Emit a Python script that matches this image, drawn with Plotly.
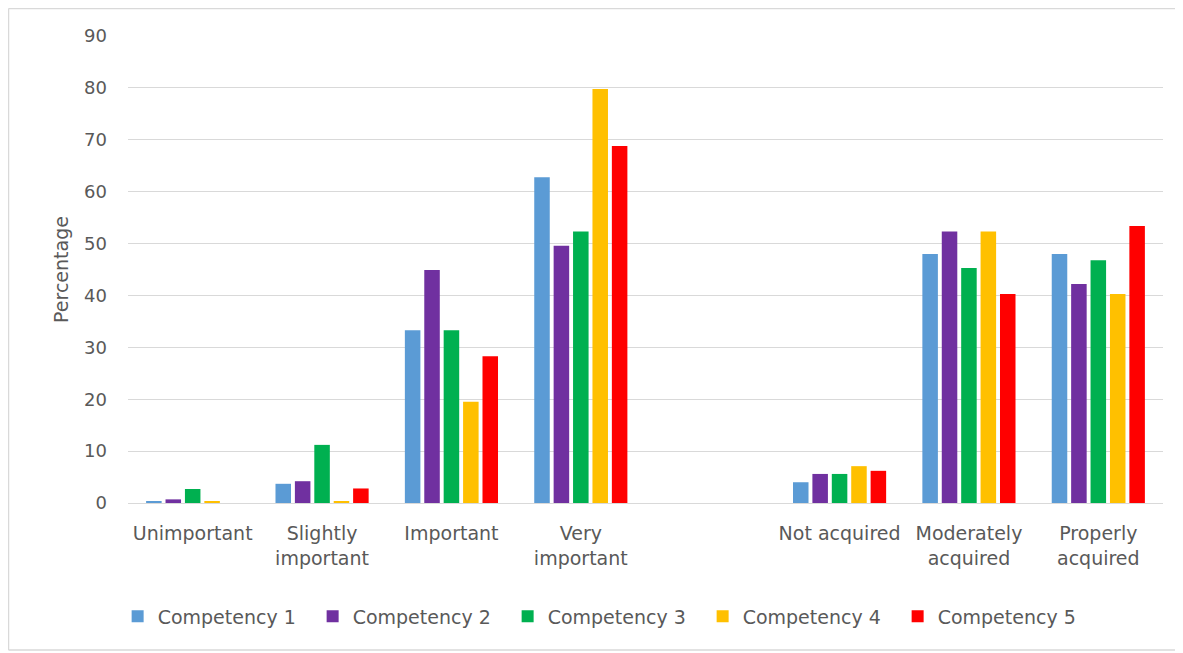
import plotly.graph_objects as go

categories = ["Unimportant", "Slightly<br>important", "Important", "Very<br>important", " ",
              "Not acquired", "Moderately<br>acquired", "Properly<br>acquired"]
series_names = ["Competency 1", "Competency 2", "Competency 3", "Competency 4", "Competency 5"]
comp1 = [0.3, 3.7, 33.3, 62.8, None, 4.0, 48.0, 48.0]
comp2 = [0.7, 4.2, 44.9, 49.6, None, 5.6, 52.3, 42.2]
comp3 = [2.7, 11.2, 33.3, 52.3, None, 5.6, 45.3, 46.8]
comp4 = [0.2, 0.3, 19.5, 79.8, None, 7.1, 52.3, 40.3]
comp5 = [0.0, 2.8, 28.3, 68.8, None, 6.2, 40.3, 53.4]
colors = ["#5B9BD5", "#7030A0", "#00B050", "#FFC000", "#FF0000"]
ytick_vals = [0, 10, 20, 30, 40, 50, 60, 70, 80, 90]

FONT = "DejaVu Sans"
GRAY = "#595959"
FS = 19

fig = go.Figure()
for name, vals, col in zip(series_names, [comp1, comp2, comp3, comp4, comp5], colors):
    fig.add_trace(go.Bar(x=categories, y=vals, name=name, marker=dict(color=col, line=dict(width=0))))

W, H = 1175, 645
L, T, R, B = 120, 28, 20, 150
pw, ph = W - L - R, H - T - B

xl = (0.5 - L) / pw
yt = (T + ph - 0.5) / ph
yb = -(H - 3 - (T + ph)) / ph
border = dict(color="#D9D9D9", width=1.5)

fig.update_layout(
    width=W, height=H,
    margin=dict(l=L, r=R, t=T, b=B),
    paper_bgcolor="white", plot_bgcolor="white",
    barmode="group", bargap=0.25, bargroupgap=0.2,
    font=dict(family=FONT, size=FS, color=GRAY),
    legend=dict(orientation="h", x=0.461, xanchor="center", y=-0.243, yanchor="middle",
                font=dict(family=FONT, size=FS, color=GRAY), itemwidth=30,
                entrywidth=150, entrywidthmode="pixels",
                traceorder="normal"),
    xaxis=dict(type="category", categoryorder="array", categoryarray=categories,
               showgrid=False, showline=True, linecolor="#D9D9D9", linewidth=1,
               ticks="", ticklabelstandoff=13, tickfont=dict(family=FONT, size=FS, color=GRAY)),
    yaxis=dict(range=[0, 90], tickvals=ytick_vals, showgrid=True, gridcolor="#D9D9D9",
               gridwidth=1, zeroline=False, showline=False, ticks="", ticklabelstandoff=20,
               tickfont=dict(family=FONT, size=18, color=GRAY),
               title=dict(text="Percentage", font=dict(family=FONT, size=19, color=GRAY), standoff=10)),
    shapes=[
        dict(type="line", xref="paper", yref="paper", x0=xl, x1=1.2, y0=yt, y1=yt, line=border, layer="below"),
        dict(type="line", xref="paper", yref="paper", x0=xl, x1=xl, y0=yb, y1=yt, line=border, layer="below"),
        dict(type="line", xref="paper", yref="paper", x0=xl, x1=1.2, y0=yb, y1=yb, line=border, layer="below"),
    ],
)

fig.write_html("out.html")
